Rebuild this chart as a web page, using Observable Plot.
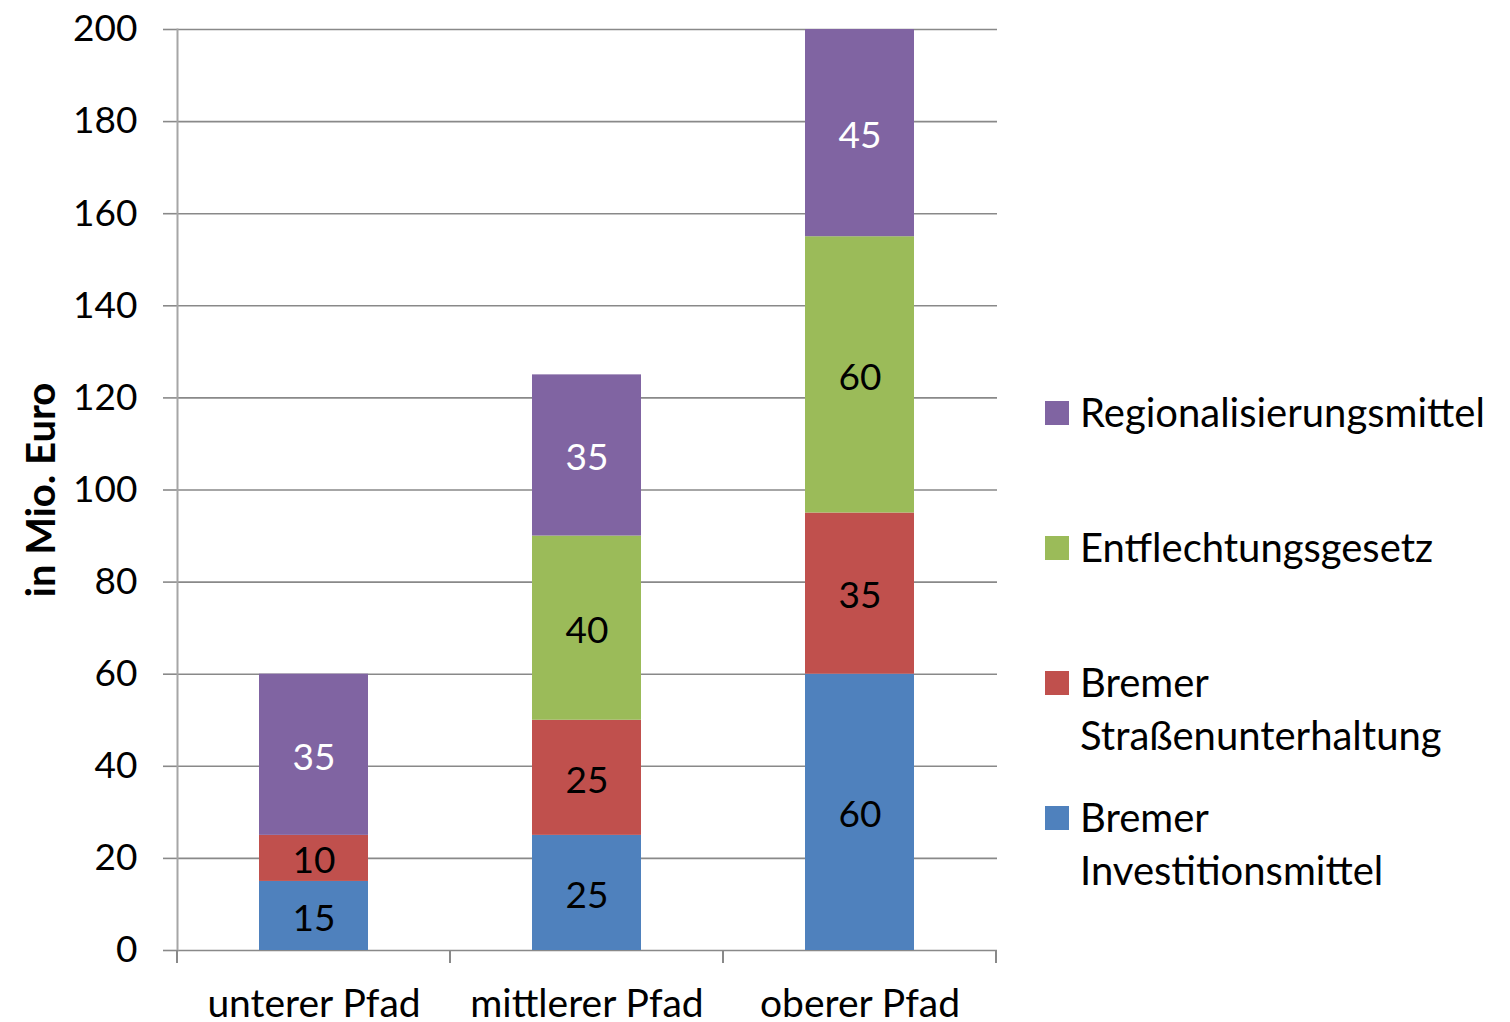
<!DOCTYPE html>
<html>
<head>
<meta charset="utf-8">
<script src="https://cdn.jsdelivr.net/npm/d3@7"></script>
<script src="https://cdn.jsdelivr.net/npm/@observablehq/plot@0.6"></script>
<style>
  body { margin: 0; background: #fff; font-family: Lato, "Open Sans", sans-serif; }
  #wrap { position: relative; width: 1510px; height: 1022px; overflow: hidden; }
  #legend { position: absolute; left: 1045px; top: 0; }
  .item { position: absolute; left: 0; width: 460px; }
  .sw { position: absolute; left: 0; top: 15px; width: 24px; height: 24px; }
  .lab { position: absolute; left: 35px; width: 412px; font-size: 40px; line-height: 53px; color: #000; }
</style>
</head>
<body>
<div id="wrap"><div id="legend"></div></div>
<script>
const categories = ["unterer Pfad", "mittlerer Pfad", "oberer Pfad"];
const seriesNames = ["Bremer Investitionsmittel", "Bremer Straßenunterhaltung", "Entflechtungsgesetz", "Regionalisierungsmittel"];
const investitionsmittel = [15, 25, 60];
const strassenunterhaltung = [10, 25, 35];
const entflechtungsgesetz = [0, 40, 60];
const regionalisierungsmittel = [35, 35, 45];
const seriesColors = ["#4F81BD", "#C0504D", "#9BBB59", "#8064A2"];
const yTicks = [0, 20, 40, 60, 80, 100, 120, 140, 160, 180, 200];
const yTitle = "in Mio. Euro";

const seriesValues = [investitionsmittel, strassenunterhaltung, entflechtungsgesetz, regionalisierungsmittel];
const data = [];
seriesNames.forEach((s, i) => categories.forEach((c, j) => data.push({category: c, series: s, value: seriesValues[i][j]})));

const gray = "#898989";
const fs = 37;
const M = {left: 177, right: 513, top: 29, bottom: 72};

const chart = Plot.plot({
  width: 1510,
  height: 1022,
  marginLeft: M.left,
  marginRight: M.right,
  marginTop: M.top,
  marginBottom: M.bottom,
  style: {fontFamily: "Lato, 'Open Sans', sans-serif", fontSize: fs + "px", color: "#000", background: "#fff"},
  x: {type: "band", domain: categories, paddingInner: 0.6, paddingOuter: 0.3, axis: null},
  y: {domain: [0, 200], axis: null},
  color: {domain: seriesNames, range: seriesColors},
  marks: [
    Plot.gridY(yTicks, {stroke: gray, strokeOpacity: 1, strokeWidth: 1.6}),
    Plot.axisY(yTicks, {tickSize: 14, tickPadding: 26, stroke: gray, strokeWidth: 1.6, fontSize: fs, fill: "#000", label: null}),
    Plot.frame({anchor: "left", stroke: "#a6a6a6", strokeWidth: 2}),
    Plot.barY(data, {x: "category", y: "value", fill: "series", order: seriesNames}),
    Plot.text(data, Plot.filter(d => d.value > 0 && d.series !== "Regionalisierungsmittel",
      Plot.stackY({x: "category", y: "value", z: "series", order: seriesNames, text: d => String(d.value), fill: "#000", fontSize: fs, dy: 3}))),
    Plot.text(data, Plot.filter(d => d.value > 0 && d.series === "Regionalisierungsmittel",
      Plot.stackY({x: "category", y: "value", z: "series", order: seriesNames, text: d => String(d.value), fill: "#fff", fontSize: fs, dy: 3}))),
    Plot.axisX({tickSize: 0, tickPadding: 39, fontSize: 39, fill: "#000", label: null}),
    Plot.text([yTitle], {frameAnchor: "left", textAnchor: "middle", rotate: -90, dx: -135, text: d => d, fontWeight: "bold", fontSize: 40, fill: "#000"})
  ]
});
document.getElementById("wrap").prepend(chart);
chart.style.position = "absolute";
chart.style.left = "0px";
chart.style.top = "0px";

// category boundary ticks below the x axis, positioned from Plot's x scale
const xs = chart.scale("x");
const step = xs.step, bw = xs.bandwidth;
const centers = categories.map(c => xs.apply(c) + bw / 2);
const bounds = [centers[0] - step / 2, ...centers.map(c => c + step / 2)];
const y0 = 1022 - M.bottom;
const tg = d3.select(chart).append("g").attr("stroke", gray).attr("stroke-width", 2);
bounds.forEach(v => tg.append("line").attr("x1", v).attr("x2", v).attr("y1", y0).attr("y2", y0 + 13));

const legend = document.getElementById("legend");
const order = seriesNames.map((s, i) => i).reverse();
order.forEach((i, k) => {
  const item = document.createElement("div");
  item.className = "item";
  item.style.top = (386 + k * 135) + "px";
  const sw = document.createElement("div");
  sw.className = "sw";
  sw.style.background = seriesColors[i];
  const lab = document.createElement("div");
  lab.className = "lab";
  lab.textContent = seriesNames[i];
  item.appendChild(sw);
  item.appendChild(lab);
  legend.appendChild(item);
});
</script>
</body>
</html>
